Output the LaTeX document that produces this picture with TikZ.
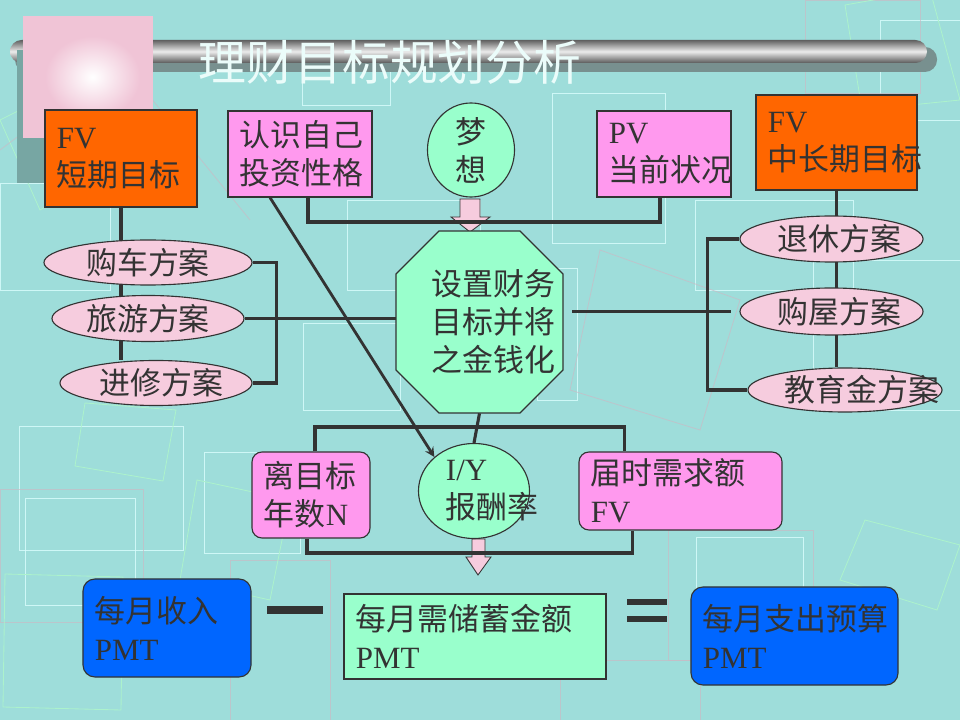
\documentclass[tikz,border=0pt]{standalone}
\usepackage{fontspec}
\setmainfont{Liberation Serif}
\newfontfamily\cjk{Noto Sans CJK SC}
\newcommand\eng[1]{{\rmfamily #1}}
\usepackage{tikz}
\usetikzlibrary{shapes.geometric, arrows}
\definecolor{bgteal}{RGB}{158,221,218}
\definecolor{ink}{RGB}{51,51,51}
\definecolor{orangebox}{RGB}{255,102,0}
\definecolor{pinkbox}{RGB}{255,153,238}
\definecolor{pinkplan}{RGB}{246,204,222}
\definecolor{mint}{RGB}{153,255,204}
\definecolor{bluebox}{RGB}{0,102,255}
\definecolor{decowhite}{RGB}{215,252,252}
\definecolor{decogreen}{RGB}{172,242,204}
\definecolor{decopink}{RGB}{200,188,198}
\definecolor{pinksq}{RGB}{240,196,214}
\tikzstyle{target} = [rectangle, draw=ink, line width=0.8pt, fill=orangebox, align=left, inner xsep=0.3cm]
\tikzstyle{info} = [rectangle, rounded corners=0.25cm, draw=ink, line width=0.8pt, fill=pinkbox, align=left, inner xsep=0.3cm]
\tikzstyle{plan} = [ellipse, draw=ink, line width=0.8pt, fill=pinkplan, inner sep=0pt]
\tikzstyle{bubble} = [ellipse, draw=ink, line width=0.8pt, fill=mint, inner sep=0pt]
\tikzstyle{money} = [rectangle, rounded corners=0.3cm, draw=ink, line width=0.8pt, fill=bluebox, align=left, inner xsep=0.3cm]
\tikzstyle{wire} = [line width=2.2pt, draw=ink]
\tikzstyle{arrow} = [line width=2pt, ->, >=stealth, draw=ink]
\tikzstyle{fatarrow} = [draw=ink, line width=0.6pt, fill=pinkplan]
\tikzstyle{deco} = [line width=0.6pt]
\pgfdeclarelayer{decor}
\pgfdeclarelayer{wires}
\pgfsetlayers{decor,wires,main}
\begin{document}
\begin{tikzpicture}[x=0.025cm, y=-0.025cm,
  every node/.style={font=\cjk\fontsize{22}{27}\selectfont, text=ink}]
\useasboundingbox (0,0) rectangle (960,720);

\begin{pgfonlayer}{decor}
\fill[bgteal] (0,0) rectangle (960,720);
% faint squares of the slide background
\foreach \a/\b/\c/\d in {19/426/183/550, 25/498/135/605, 204/452/300/553, 696/537/803/600,
  552/93/665/243, 537/268/577/400, 695/200/853/290, 813/260/960/410, 302/40/390/105,
  347/200/480/290, 303/323/400/410, 0/183/110/290, 880/20/960/120}
  \draw[deco, decowhite, opacity=0.85] (\a,\b) rectangle (\c,\d);
\foreach \a/\b/\c/\d in {668/530/813/660, 805/0/920/93, 0/489/143/622, 230/560/330/720, 560/660/700/720}
  \draw[deco, decopink, opacity=0.7] (\a,\b) rectangle (\c,\d);
\draw[deco, decogreen] (85,403) -- (176,410) -- (163,481) -- (75,466) -- cycle;
\draw[deco, decogreen] (5,574) -- (123,577) -- (121,710) -- (3,707) -- cycle;
\draw[deco, decogreen] (840,580) -- (865,520) -- (960,545) -- (937,610) -- cycle;
\draw[deco, decogreen] (845,5) -- (930,-10) -- (960,100) -- (862,110) -- cycle;
\draw[deco, decogreen] (197,480) -- (290,500) -- (270,600) -- (180,580) -- cycle;
\draw[deco, decogreen] (0,120) -- (60,90) -- (110,170) -- (40,210) -- cycle;
\draw[deco, decopink, opacity=0.7] (0,150) -- (120,60) -- (250,220);
\draw[deco, decopink, opacity=0.7] (600,250) -- (740,300) -- (700,430) -- (570,390) -- cycle;
% title bar
\fill[gray!55!bgteal!85!black, rounded corners=0.3cm] (15,47) rectangle (937,72);
\shade[rounded corners=0.29cm, top color=gray!75!black, bottom color=gray!70!black, middle color=gray!15] (10,40) rectangle (927,63);
\fill[bgteal!75!black] (17,50) rectangle (150,183);
\fill[pinksq] (23,16) rectangle (153,138);
\shade[inner color=white, outer color=pinksq] (45,36) rectangle (140,118);
\end{pgfonlayer}

\node (title) at (390,62) [font=\cjk\fontsize{34}{40}\selectfont, text={rgb,255:red,235;green,252;blue,250}] {理财目标规划分析};

\filldraw[fill=mint, draw=ink, line width=0.8pt] (439,231) -- (520,231) -- (563,274) -- (563,370) -- (520,413) -- (439,413) -- (396,370) -- (396,274) -- cycle;
\node (goal) [rectangle, minimum width=4.175cm, minimum height=4.55cm, text width=2.375cm, align=left, inner sep=0pt] at (479.5,322) {设置财务\\目标并将\\之金钱化};

\node (fvshort) [target, minimum width=3.8cm, minimum height=2.425cm, text width=3.2cm] at (121,158.5) {\eng{FV}\\短期目标};
\node (know) [target, fill=pinkbox, minimum width=3.6cm, minimum height=2.15cm, text width=3cm] at (300,154) {认识自己\\投资性格};
\node (dream) [bubble, minimum width=2.175cm, minimum height=2.35cm, align=center] at (471,150) {梦\\想};
\node (pv) [target, fill=pinkbox, minimum width=3.35cm, minimum height=2.15cm, text width=2.75cm] at (664,154) {\eng{PV}\\当前状况};
\node (fvlong) [target, minimum width=4.025cm, minimum height=2.375cm, text width=3.425cm] at (836.5,142.5) {\eng{FV}\\中长期目标};

\node (car) [plan, minimum width=5.2cm, minimum height=1.125cm] at (148,262.5) {购车方案};
\node (travel) [plan, minimum width=4.8cm, minimum height=1.15cm] at (148,318.5) {旅游方案};
\node (study) [plan, minimum width=4.8cm, minimum height=1.125cm] at (156,383) {\makebox[2.8cm][l]{进修方案}};
\node (retire) [plan, minimum width=4.575cm, minimum height=1.15cm] at (831.5,239) {\makebox[2.675cm][l]{退休方案}};
\node (house) [plan, minimum width=4.575cm, minimum height=1.175cm] at (831.5,311.5) {\makebox[2.675cm][l]{购屋方案}};
\node (edu) [plan, minimum width=4.85cm, minimum height=1.1cm] at (845,390) {\makebox[3cm][l]{教育金方案}};

\node (years) [info, minimum width=2.95cm, minimum height=2.15cm, text width=2.35cm] at (311,495) {离目标\\年数\eng{N}};
\node (iy) [bubble, minimum width=2.775cm, minimum height=2.375cm, align=left] at (474,491) {\makebox[1.4cm][l]{\eng{I/Y}}\\\makebox[1.4cm][l]{报酬率}};
\node (need) [info, minimum width=5.075cm, minimum height=1.95cm, text width=4.475cm] at (680.5,491) {届时需求额\\\eng{FV}};

\node (income) [money, minimum width=4.2cm, minimum height=2.45cm, text width=3.6cm] at (167,628) {每月收入\\\eng{PMT}};
\node (save) [money, fill=mint, rounded corners=0pt, minimum width=6.55cm, minimum height=2.125cm, text width=5.95cm] at (475,636.5) {每月需储蓄金额\\\eng{PMT}};
\node (spend) [money, minimum width=5.175cm, minimum height=2.45cm, text width=4.575cm] at (794.5,636) {每月支出预算\\\eng{PMT}};

% minus and equals
\draw[ink, line width=0.2cm] (267,610) -- (323,610);
\draw[ink, line width=0.16cm] (627,602) -- (667,602) (627,619) -- (667,619);

\begin{pgfonlayer}{wires}
\filldraw[fatarrow] (460,199) -- (480,199) -- (480,217) -- (490,217) -- (470,232) -- (451,217) -- (460,217) -- cycle;
\filldraw[fatarrow] (472,539) -- (485,539) -- (485,557) -- (491,557) -- (478,575) -- (466,557) -- (472,557) -- cycle;
\coordinate (merge) at (470,222);
\coordinate (split) at (476,427);
\coordinate (join) at (478,553);
\draw[wire] ([xshift=0.2cm]know.south) |- (merge) -| ([xshift=-0.1cm]pv.south);
\draw[wire] (fvshort.south) -- (fvshort.south |- study.north);
\draw[wire] (car.east) -- ++(24,0) |- (study.east);
\draw[wire] (travel.east) -- (travel.east -| goal.west);
\draw[wire] (fvlong.south) -- (fvlong.south |- edu.north);
\draw[wire] (retire.west) -- ++(-32,0) |- (edu.west);
\draw[wire] (goal.east |- house.west) ++(9,0) -- ([xshift=-0.2cm]house.west);
\draw[wire] (goal.south) -- (iy.north);
\draw[wire] ([xshift=0.1cm]years.north) |- (split) -| ([xshift=-1.4cm]need.north);
\draw[wire] ([xshift=-0.1cm]years.south) |- (join) -| ([xshift=-1.2cm]need.south);
\draw[arrow] ([xshift=-0.75cm]know.south) -- (iy.north west);
\end{pgfonlayer}
\end{tikzpicture}
\end{document}
